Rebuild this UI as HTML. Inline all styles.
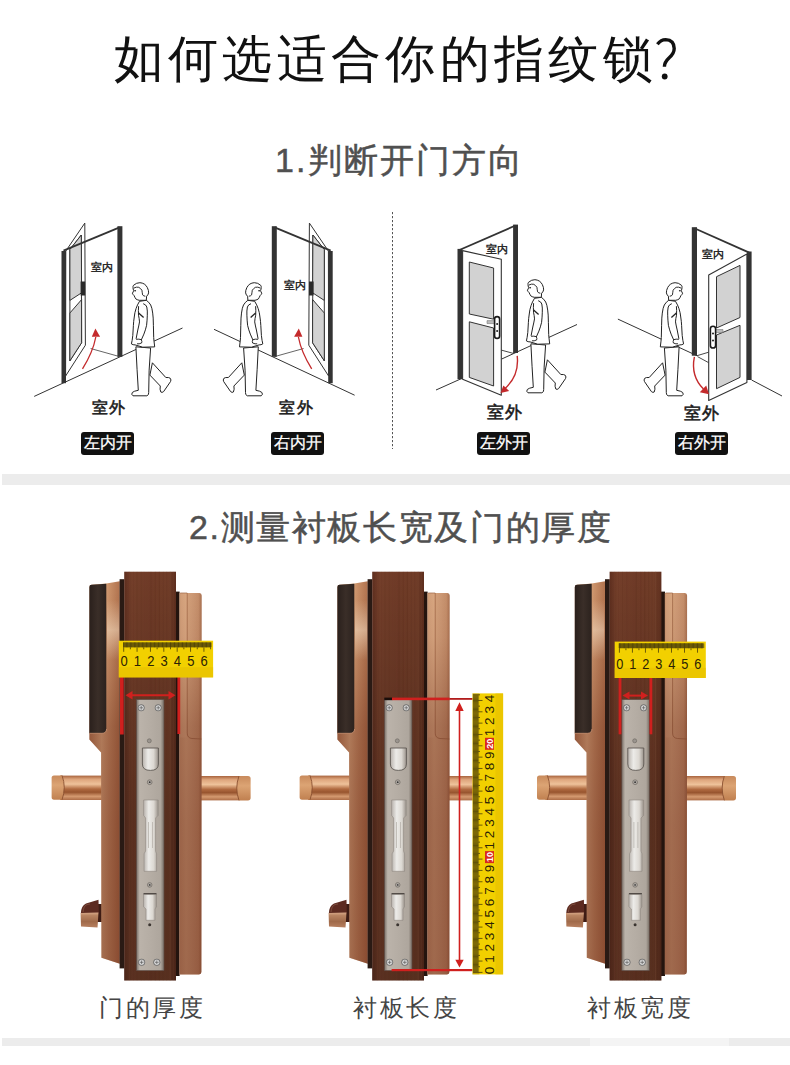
<!DOCTYPE html>
<html><head><meta charset="utf-8">
<style>
html,body{margin:0;padding:0;background:#fff;width:790px;height:1065px;overflow:hidden;position:relative;font-family:"Liberation Sans",sans-serif}
.t{position:absolute;white-space:nowrap;line-height:1}
.band{position:absolute;left:2px;width:788px;background:#ececec}
.lb{color:#1a1a1a;font-weight:500;-webkit-text-stroke:0.55px #1a1a1a;letter-spacing:1.5px}
.tag{position:absolute;width:53px;height:22.2px;background:#111;border-radius:3px;color:#fff;font-size:15.6px;line-height:22.5px;text-align:center;white-space:nowrap;letter-spacing:0px;-webkit-text-stroke:0.25px #fff}
.cap{position:absolute;white-space:nowrap;line-height:1;font-size:24px;color:#444;letter-spacing:2.6px;font-weight:300}
svg{position:absolute;left:0;top:0}
</style></head><body>
<div class="t" style="left:113.5px;top:34px;font-size:50px;font-weight:300;color:#111;letter-spacing:4.35px">如何选适合你的指纹锁</div>
<div class="t" style="left:275px;top:143px;font-size:34px;font-weight:500;color:#505050;letter-spacing:2.1px;-webkit-text-stroke:0.5px #505050">1.判断开门方向</div>
<div class="band" style="top:474px;height:11px"></div>
<div class="t" style="left:189px;top:510px;font-size:34px;font-weight:500;color:#505050;letter-spacing:1.62px;-webkit-text-stroke:0.5px #505050">2.测量衬板长宽及门的厚度</div>
<div class="band" style="top:1038px;height:8px"></div>
<div style="position:absolute;left:590px;top:1038px;width:139px;height:8px;background:#f4f4f4"></div>
<svg width="790" height="1065" viewBox="0 0 790 1065">
<defs><g id="man">
<path d="M152.4,362.8 L165.8,377.5 Q169,377.2 170.3,378.3 Q171.5,380 170.5,381.6 L163.6,391.6 Q162,393 160.8,392 Q159.6,389.5 160.3,386 L149.9,375.1 Z" fill="#fff" stroke="#222" stroke-width="1"/>
<path d="M135.9,346.8 Q137,370 138.3,390.3 Q134,391 132.4,392.4 Q130.8,394.4 133,395.8 L146.9,395.8 Q149,395 148.7,392.5 Q148.6,370 150.6,348 Z" fill="#fff" stroke="#222" stroke-width="1"/>
<path d="M139.5,301.3 Q137.2,305 136.1,308.4 Q134.6,313 134.4,316 Q133.5,322 133.4,325.3 L132.8,335.4 Q132.2,341 131.4,343.9 Q133,345 135.1,344.9 L142.8,347.2 L154.7,346.9 Q153.8,340 153.7,337.5 L153.4,325.3 Q153.3,317 152.7,313.1 Q152,307.5 150.7,305 Q148.8,301.8 146.3,300.3 Z" fill="#fff" stroke="#222" stroke-width="1"/>
<path d="M143.2,303.7 Q146,304.5 146.8,307 Q147.6,311 147.3,315.2 Q147.2,320 146.6,325.3 Q145.5,330 143.9,334.1 L141.2,340.2 M138.6,306.2 Q138.2,310 138.5,315.2 Q139.3,318.5 139.5,321.9 Q138.8,326 137.8,330 L136.1,338.8" fill="none" stroke="#222" stroke-width="1"/>
<path d="M136.1,339.3 Q139,338.8 141.3,339.7 Q142.3,341.5 141.6,343 Q139,344.2 137,343.8" fill="#fff" stroke="#222" stroke-width="0.95"/>
<path d="M138.6,313 L143.6,317.6" stroke="#222" stroke-width="1.3"/>
<path d="M139.2,300.3 Q137,299.8 135.8,298.9 Q134.8,297.3 134.1,295.6 Q133,294.8 132.4,293.2 Q133.4,292 133.6,290.5 Q133,289 133,287.5 Q132.8,286.2 133.5,285.3 Q136.5,282.6 139.9,282.7 Q145,283 147.3,287.5 Q148.8,290.5 148.6,292.9 Q148,295.3 146.6,296.2 L146.3,300.3 Z" fill="#fff" stroke="#222" stroke-width="1"/>
<path d="M133.8,288.1 Q136.5,286.6 138.8,287.3 Q140.8,288.5 141.9,290.2 Q142.3,293 142.6,294.9 Q143.8,296.2 145.3,296.2" fill="none" stroke="#222" stroke-width="0.95"/>
<ellipse cx="135.1" cy="290.8" rx="1" ry="0.7" fill="#222"/>
</g>

<linearGradient id="gSlab" x1="0" x2="1" y1="0" y2="0">
 <stop offset="0" stop-color="#603020"/><stop offset="0.15" stop-color="#743f2a"/><stop offset="0.5" stop-color="#6f3b27"/><stop offset="0.85" stop-color="#713d28"/><stop offset="1" stop-color="#5e2e1e"/>
</linearGradient>
<linearGradient id="gSlabV" x1="0" x2="0" y1="0" y2="1">
 <stop offset="0" stop-color="#000" stop-opacity="0"/><stop offset="0.3" stop-color="#000" stop-opacity="0.12"/><stop offset="0.6" stop-color="#000" stop-opacity="0.22"/><stop offset="1" stop-color="#000" stop-opacity="0.22"/>
</linearGradient>
<linearGradient id="gCopL" x1="0" x2="1" y1="0" y2="0">
 <stop offset="0" stop-color="#b57a56"/><stop offset="0.4" stop-color="#dcaa80"/><stop offset="0.65" stop-color="#c99068"/><stop offset="1" stop-color="#b0724e"/>
</linearGradient>
<linearGradient id="gShadeV" gradientUnits="userSpaceOnUse" x1="0" x2="0" y1="590" y2="980">
 <stop offset="0" stop-color="#4a0c00" stop-opacity="0"/><stop offset="0.12" stop-color="#4a0c00" stop-opacity="0.05"/><stop offset="0.35" stop-color="#4a0c00" stop-opacity="0.3"/><stop offset="0.6" stop-color="#4a0c00" stop-opacity="0.36"/><stop offset="1" stop-color="#4a0c00" stop-opacity="0.38"/>
</linearGradient>
<linearGradient id="gCopR" x1="0" x2="1" y1="0" y2="0">
 <stop offset="0" stop-color="#c89470"/><stop offset="0.3" stop-color="#d4a27c"/><stop offset="0.6" stop-color="#cc9874"/><stop offset="0.85" stop-color="#c48e6a"/><stop offset="1" stop-color="#a87050"/>
</linearGradient>
<linearGradient id="gPanel" x1="0" x2="1" y1="0" y2="0">
 <stop offset="0" stop-color="#2a201c"/><stop offset="0.5" stop-color="#3a2e28"/><stop offset="1" stop-color="#2c221e"/>
</linearGradient>
<linearGradient id="gLever" x1="0" x2="0" y1="0" y2="1">
 <stop offset="0" stop-color="#a8643e"/><stop offset="0.15" stop-color="#dea57c"/><stop offset="0.35" stop-color="#eec29a"/><stop offset="0.55" stop-color="#b06a40"/><stop offset="0.68" stop-color="#98552f"/><stop offset="0.85" stop-color="#d49a70"/><stop offset="1" stop-color="#ac6c46"/>
</linearGradient>
<linearGradient id="gCap" x1="0" x2="0" y1="0" y2="1">
 <stop offset="0" stop-color="#c88a5c"/><stop offset="0.4" stop-color="#dca474"/><stop offset="1" stop-color="#c08050"/>
</linearGradient>
<linearGradient id="gPlate" x1="0" x2="1" y1="0" y2="0">
 <stop offset="0" stop-color="#7a7068"/><stop offset="0.12" stop-color="#bbb3aa"/><stop offset="0.5" stop-color="#b5ada4"/><stop offset="0.88" stop-color="#aea69d"/><stop offset="1" stop-color="#776d64"/>
</linearGradient>
<linearGradient id="gBolt" x1="0" x2="1" y1="0" y2="0">
 <stop offset="0" stop-color="#b8b2ac"/><stop offset="0.35" stop-color="#ecebe8"/><stop offset="0.7" stop-color="#dcd8d2"/><stop offset="1" stop-color="#9a928a"/>
</linearGradient>
<linearGradient id="gThumb" x1="0" x2="0" y1="0" y2="1">
 <stop offset="0" stop-color="#d8a888"/><stop offset="0.2" stop-color="#b88462"/><stop offset="0.6" stop-color="#a06a4a"/><stop offset="1" stop-color="#b88060"/>
</linearGradient>
<linearGradient id="gHi" x1="0" x2="0" y1="0" y2="1"><stop offset="0" stop-color="#fff0d8" stop-opacity="0"/><stop offset="0.5" stop-color="#fff0d8" stop-opacity="0.45"/><stop offset="1" stop-color="#fff0d8" stop-opacity="0"/></linearGradient>
<radialGradient id="gScrew"><stop offset="0" stop-color="#f0f0f0"/><stop offset="0.7" stop-color="#cfcfcf"/><stop offset="1" stop-color="#777"/></radialGradient>
<g id="lockbody">
 <!-- levers -->
 <rect x="60" y="775.6" width="42" height="24.4" fill="url(#gLever)"/>
 <path d="M51.6,778 Q51.6,775.4 54,775.4 L62,775.4 Q66,787.5 62,799.8 L54,799.8 Q51.6,799.8 51.6,797 Z" fill="url(#gCap)"/>
 <path d="M62,775.4 Q66.5,787.5 62,799.8" fill="none" stroke="#8a5030" stroke-width="0.9"/>
 <rect x="199" y="776" width="40" height="24.4" fill="url(#gLever)"/>
 <path d="M250.6,778.5 Q250.6,776 248,776 L239,776 Q234.5,788 239,800.4 L248,800.4 Q250.6,800.4 250.6,798 Z" fill="url(#gCap)"/>
 <path d="M239,776 Q234.5,788 239,800.4" fill="none" stroke="#8a5030" stroke-width="0.9"/>
 <!-- thumb turn -->
 <rect x="96" y="904" width="6" height="18" fill="#3e1c14"/>
 <path d="M80.8,913.5 Q81.2,905.5 86,903.5 L98.5,899.8 L98.8,913.5 Z" fill="#5c2a20"/>
 <path d="M83,912 Q83.5,906 87,904.5 L90,904" fill="none" stroke="#8a5a48" stroke-width="1" opacity="0.7"/>
 <path d="M80.6,913 L98.5,912.5 L97.5,927.5 L81,926.5 Z" fill="url(#gThumb)"/>
 <!-- left body -->
 <path d="M89.4,587 Q89.4,584.7 91.5,584.7 L106.3,583.5 L119.8,581.3 L119.8,963.8 L101.4,957.7 L101.1,752.6 L89.4,739.4 Z" fill="url(#gCopL)"/>
 <path d="M89.4,587 Q89.4,584.7 91.5,584.7 L106.3,583.5 L119.8,581.3 L119.8,963.8 L101.4,957.7 L101.1,752.6 L89.4,739.4 Z" fill="url(#gShadeV)"/>
 <rect x="107" y="600" width="12" height="60" fill="url(#gHi)"/>
 <path d="M89.4,587 Q89.4,584.7 91.5,584.7 L106.3,583.8 L106.3,729 Q106.3,733.3 102,733.3 L89.4,733.3 Z" fill="url(#gPanel)"/>
 <path d="M89.4,733.3 L102,733.3 Q106.3,733.3 106.6,729" fill="none" stroke="#c99070" stroke-width="0.8"/>
 <!-- dark bands -->
 <rect x="119.6" y="579.2" width="4.8" height="389.2" fill="#2a1a14"/>
 <rect x="175.6" y="591.6" width="4" height="384.4" fill="#24140e"/>
 <!-- slab -->
 <rect x="124.2" y="571.7" width="51.8" height="408.8" fill="url(#gSlab)"/>
 <rect x="124.2" y="571.7" width="51.8" height="408.8" fill="url(#gSlabV)"/>
 <rect x="125.5" y="571.7" width="0.70" height="408.8" fill="#5a2b1c" opacity="0.13"/>
 <rect x="128.8" y="571.7" width="0.88" height="408.8" fill="#7d4632" opacity="0.20"/>
 <rect x="133.0" y="571.7" width="0.55" height="408.8" fill="#5a2b1c" opacity="0.17"/>
 <rect x="136.7" y="571.7" width="0.72" height="408.8" fill="#552818" opacity="0.19"/>
 <rect x="140.8" y="571.7" width="1.09" height="408.8" fill="#5a2b1c" opacity="0.13"/>
 <rect x="143.8" y="571.7" width="0.53" height="408.8" fill="#7d4632" opacity="0.22"/>
 <rect x="148.2" y="571.7" width="1.06" height="408.8" fill="#7d4632" opacity="0.10"/>
 <rect x="150.5" y="571.7" width="0.97" height="408.8" fill="#552818" opacity="0.20"/>
 <rect x="154.8" y="571.7" width="1.17" height="408.8" fill="#552818" opacity="0.16"/>
 <rect x="156.7" y="571.7" width="0.51" height="408.8" fill="#7d4632" opacity="0.16"/>
 <rect x="158.8" y="571.7" width="1.02" height="408.8" fill="#552818" opacity="0.26"/>
 <rect x="162.9" y="571.7" width="0.86" height="408.8" fill="#552818" opacity="0.17"/>
 <rect x="166.0" y="571.7" width="1.12" height="408.8" fill="#5a2b1c" opacity="0.16"/>
 <rect x="169.6" y="571.7" width="1.19" height="408.8" fill="#80503a" opacity="0.26"/>
 <rect x="173.1" y="571.7" width="1.17" height="408.8" fill="#80503a" opacity="0.12"/>
 <!-- right body -->
 <path d="M179.4,593 L199.5,593 Q201.7,593 201.7,595.5 L201.4,972 Q201.4,974.4 199,974.4 L179.4,974.4 Z" fill="url(#gCopR)"/>
 <path d="M180.2,593 H187.2 V733 Q187.2,738 192,738.5 L201.5,739" fill="none" stroke="#9c6444" stroke-width="0.9" opacity="0.8"/>
 <rect x="180.2" y="593.5" width="6.4" height="144" fill="#e0b08a" opacity="0.35"/>
 <path d="M179.4,593 L199.5,593 Q201.7,593 201.7,595.5 L201.4,972 Q201.4,974.4 199,974.4 L179.4,974.4 Z" fill="url(#gShadeV)"/>
 <!-- faceplate -->
 <rect x="136.4" y="699.6" width="27.6" height="271" fill="url(#gPlate)" stroke="#5a4a44" stroke-width="0.6"/>
 <circle cx="141.2" cy="707.8" r="3.2" fill="url(#gScrew)" stroke="#666" stroke-width="0.5"/>
 <circle cx="158.2" cy="707.8" r="3.2" fill="url(#gScrew)" stroke="#666" stroke-width="0.5"/>
 <path d="M139.4,707.8 H143 M141.2,706 V709.6 M156.4,707.8 H160 M158.2,706 V709.6" stroke="#555" stroke-width="0.7"/>
 <circle cx="141.6" cy="962.3" r="3.3" fill="url(#gScrew)" stroke="#666" stroke-width="0.5"/>
 <circle cx="156.8" cy="962.3" r="3.3" fill="url(#gScrew)" stroke="#666" stroke-width="0.5"/>
 <path d="M139.8,962.3 H143.4 M141.6,960.5 V964.1 M155,962.3 H158.6 M156.8,960.5 V964.1" stroke="#555" stroke-width="0.7"/>
 <circle cx="149.3" cy="740.8" r="2" fill="#9a948e" stroke="#6a645e" stroke-width="0.6"/>
 <path d="M142.4,748 L158.4,748 L158.4,764 Q158.4,770.4 150.4,770.4 Q142.4,770.4 142.4,764 Z" fill="url(#gBolt)" stroke="#5e5852" stroke-width="0.9"/>
 <circle cx="149.7" cy="782.2" r="2.4" fill="#b0aaa4" stroke="#6e6862" stroke-width="0.7"/><circle cx="149.7" cy="782.2" r="0.9" fill="#333"/>
 <path d="M143.6,800 H158.2 V815.4 L155.6,818 V851 L156.6,853.8 V871.3 H144.1 V853.8 L145.6,851 V818 L143.6,815.4 Z" fill="url(#gBolt)" stroke="#8e8882" stroke-width="0.6"/>
 <path d="M148.5,822 V848 M152.5,822 V848" stroke="#b8b2ac" stroke-width="0.8"/>
 <circle cx="149.7" cy="884.9" r="2.3" fill="#b0aaa4" stroke="#6e6862" stroke-width="0.7"/><circle cx="149.7" cy="884.9" r="0.9" fill="#444"/>
 <rect x="143.5" y="893.2" width="13" height="1.6" fill="#3a3430"/>
 <path d="M143.5,894.5 H156.5 V906.8 L155,909 V920.3 H146 V909 L143.5,906.8 Z" fill="url(#gBolt)" stroke="#8e8882" stroke-width="0.6"/>
 <circle cx="149.7" cy="924.8" r="1.5" fill="#3a3430"/>
</g>
</defs>
<use href="#lockbody"/>
<use href="#lockbody" transform="translate(248,0)"/>
<use href="#lockbody" transform="translate(485.4,0)"/>
<rect x="120" y="677" width="3.7" height="57.5" fill="#d0201e"/>
<rect x="177.4" y="677" width="2.8" height="57" fill="#d0201e"/>
<line x1="131" y1="695.2" x2="170" y2="695.2" stroke="#d0201e" stroke-width="2"/>
<polygon points="125.5,695.2 132.5,691 132.5,699.4" fill="#d0201e"/>
<polygon points="175.5,695.2 168.5,691 168.5,699.4" fill="#d0201e"/>
<rect x="118.8" y="640.7" width="94.3" height="36.7" fill="#f2d000"/>
<rect x="118.8" y="667.124" width="94.3" height="10.276000000000002" fill="#e6c000" opacity="0.6"/>
<rect x="123.0" y="642.5" width="88.6" height="4.6" fill="#6a5808" opacity="0.7"/>
<path d="M123.70,642.3000000000001v9.5 M125.04,642.3000000000001v5.2 M126.37,642.3000000000001v5.2 M127.71,642.3000000000001v5.2 M129.05,642.3000000000001v5.2 M130.38,642.3000000000001v7 M131.72,642.3000000000001v5.2 M133.06,642.3000000000001v5.2 M134.40,642.3000000000001v5.2 M135.73,642.3000000000001v5.2 M137.07,642.3000000000001v9.5 M138.41,642.3000000000001v5.2 M139.74,642.3000000000001v5.2 M141.08,642.3000000000001v5.2 M142.42,642.3000000000001v5.2 M143.75,642.3000000000001v7 M145.09,642.3000000000001v5.2 M146.43,642.3000000000001v5.2 M147.77,642.3000000000001v5.2 M149.10,642.3000000000001v5.2 M150.44,642.3000000000001v9.5 M151.78,642.3000000000001v5.2 M153.11,642.3000000000001v5.2 M154.45,642.3000000000001v5.2 M155.79,642.3000000000001v5.2 M157.12,642.3000000000001v7 M158.46,642.3000000000001v5.2 M159.80,642.3000000000001v5.2 M161.14,642.3000000000001v5.2 M162.47,642.3000000000001v5.2 M163.81,642.3000000000001v9.5 M165.15,642.3000000000001v5.2 M166.48,642.3000000000001v5.2 M167.82,642.3000000000001v5.2 M169.16,642.3000000000001v5.2 M170.50,642.3000000000001v7 M171.83,642.3000000000001v5.2 M173.17,642.3000000000001v5.2 M174.51,642.3000000000001v5.2 M175.84,642.3000000000001v5.2 M177.18,642.3000000000001v9.5 M178.52,642.3000000000001v5.2 M179.85,642.3000000000001v5.2 M181.19,642.3000000000001v5.2 M182.53,642.3000000000001v5.2 M183.87,642.3000000000001v7 M185.20,642.3000000000001v5.2 M186.54,642.3000000000001v5.2 M187.88,642.3000000000001v5.2 M189.21,642.3000000000001v5.2 M190.55,642.3000000000001v9.5 M191.89,642.3000000000001v5.2 M193.22,642.3000000000001v5.2 M194.56,642.3000000000001v5.2 M195.90,642.3000000000001v5.2 M197.24,642.3000000000001v7 M198.57,642.3000000000001v5.2 M199.91,642.3000000000001v5.2 M201.25,642.3000000000001v5.2 M202.58,642.3000000000001v5.2 M203.92,642.3000000000001v9.5 M205.26,642.3000000000001v5.2 M206.59,642.3000000000001v5.2 M207.93,642.3000000000001v5.2 M209.27,642.3000000000001v5.2 M210.61,642.3000000000001v7" stroke="#3f340a" stroke-width="0.75" fill="none"/>
<text transform="translate(124.00,666.2) scale(0.84,1)" font-size="15.5" text-anchor="middle" fill="#2b2205" font-family="Liberation Sans, sans-serif">0</text>
<text transform="translate(137.37,666.2) scale(0.84,1)" font-size="15.5" text-anchor="middle" fill="#2b2205" font-family="Liberation Sans, sans-serif">1</text>
<text transform="translate(150.74,666.2) scale(0.84,1)" font-size="15.5" text-anchor="middle" fill="#2b2205" font-family="Liberation Sans, sans-serif">2</text>
<text transform="translate(164.11,666.2) scale(0.84,1)" font-size="15.5" text-anchor="middle" fill="#2b2205" font-family="Liberation Sans, sans-serif">3</text>
<text transform="translate(177.48,666.2) scale(0.84,1)" font-size="15.5" text-anchor="middle" fill="#2b2205" font-family="Liberation Sans, sans-serif">4</text>
<text transform="translate(190.85,666.2) scale(0.84,1)" font-size="15.5" text-anchor="middle" fill="#2b2205" font-family="Liberation Sans, sans-serif">5</text>
<text transform="translate(204.22,666.2) scale(0.84,1)" font-size="15.5" text-anchor="middle" fill="#2b2205" font-family="Liberation Sans, sans-serif">6</text>
<rect x="618.6" y="678" width="2.8" height="56.3" fill="#d0201e"/>
<rect x="649.5" y="678" width="2.8" height="56.3" fill="#d0201e"/>
<line x1="627" y1="695.6" x2="643.5" y2="695.6" stroke="#d0201e" stroke-width="2"/>
<polygon points="622.5,695.6 629.5,691.6 629.5,699.6" fill="#d0201e"/>
<polygon points="648,695.6 641,691.6 641,699.6" fill="#d0201e"/>
<rect x="614.7" y="641.6" width="91.1" height="36.4" fill="#f2d000"/>
<rect x="614.7" y="667.808" width="91.1" height="10.192" fill="#e6c000" opacity="0.6"/>
<rect x="618.7" y="643.4" width="85.60000000000002" height="4.6" fill="#6a5808" opacity="0.7"/>
<path d="M619.40,643.2v9.5 M620.70,643.2v5.2 M622.00,643.2v5.2 M623.31,643.2v5.2 M624.61,643.2v5.2 M625.91,643.2v7 M627.21,643.2v5.2 M628.51,643.2v5.2 M629.82,643.2v5.2 M631.12,643.2v5.2 M632.42,643.2v9.5 M633.72,643.2v5.2 M635.02,643.2v5.2 M636.33,643.2v5.2 M637.63,643.2v5.2 M638.93,643.2v7 M640.23,643.2v5.2 M641.53,643.2v5.2 M642.84,643.2v5.2 M644.14,643.2v5.2 M645.44,643.2v9.5 M646.74,643.2v5.2 M648.04,643.2v5.2 M649.35,643.2v5.2 M650.65,643.2v5.2 M651.95,643.2v7 M653.25,643.2v5.2 M654.55,643.2v5.2 M655.86,643.2v5.2 M657.16,643.2v5.2 M658.46,643.2v9.5 M659.76,643.2v5.2 M661.06,643.2v5.2 M662.37,643.2v5.2 M663.67,643.2v5.2 M664.97,643.2v7 M666.27,643.2v5.2 M667.57,643.2v5.2 M668.88,643.2v5.2 M670.18,643.2v5.2 M671.48,643.2v9.5 M672.78,643.2v5.2 M674.08,643.2v5.2 M675.39,643.2v5.2 M676.69,643.2v5.2 M677.99,643.2v7 M679.29,643.2v5.2 M680.59,643.2v5.2 M681.90,643.2v5.2 M683.20,643.2v5.2 M684.50,643.2v9.5 M685.80,643.2v5.2 M687.10,643.2v5.2 M688.41,643.2v5.2 M689.71,643.2v5.2 M691.01,643.2v7 M692.31,643.2v5.2 M693.61,643.2v5.2 M694.92,643.2v5.2 M696.22,643.2v5.2 M697.52,643.2v9.5 M698.82,643.2v5.2 M700.12,643.2v5.2 M701.43,643.2v5.2 M702.73,643.2v5.2" stroke="#3f340a" stroke-width="0.75" fill="none"/>
<text transform="translate(619.70,668.5) scale(0.84,1)" font-size="15.2" text-anchor="middle" fill="#2b2205" font-family="Liberation Sans, sans-serif">0</text>
<text transform="translate(632.72,668.5) scale(0.84,1)" font-size="15.2" text-anchor="middle" fill="#2b2205" font-family="Liberation Sans, sans-serif">1</text>
<text transform="translate(645.74,668.5) scale(0.84,1)" font-size="15.2" text-anchor="middle" fill="#2b2205" font-family="Liberation Sans, sans-serif">2</text>
<text transform="translate(658.76,668.5) scale(0.84,1)" font-size="15.2" text-anchor="middle" fill="#2b2205" font-family="Liberation Sans, sans-serif">3</text>
<text transform="translate(671.78,668.5) scale(0.84,1)" font-size="15.2" text-anchor="middle" fill="#2b2205" font-family="Liberation Sans, sans-serif">4</text>
<text transform="translate(684.80,668.5) scale(0.84,1)" font-size="15.2" text-anchor="middle" fill="#2b2205" font-family="Liberation Sans, sans-serif">5</text>
<text transform="translate(697.82,668.5) scale(0.84,1)" font-size="15.2" text-anchor="middle" fill="#2b2205" font-family="Liberation Sans, sans-serif">6</text>
<rect x="384.3" y="697.6" width="8" height="2.6" fill="#1a0e0a"/>
<rect x="392" y="697.6" width="57.5" height="2.6" fill="#d0201e"/>
<rect x="449.4" y="698" width="23.3" height="1.8" fill="#b21c1c"/>
<rect x="391.6" y="969" width="81" height="2.2" fill="#d0201e"/>
<line x1="459.5" y1="708" x2="459.5" y2="963" stroke="#d0201e" stroke-width="1.6"/>
<polygon points="459.5,702.3 455.3,711 463.7,711" fill="#d0201e"/>
<polygon points="459.5,967.5 455.3,959.8 463.7,959.8" fill="#d0201e"/>
<rect x="472.5" y="693.4" width="30.6" height="281" fill="#f2d000"/>
<rect x="495.45" y="693.4" width="7.65" height="281" fill="#e6c000" opacity="0.6"/>
<rect x="472.5" y="693.4" width="6.8" height="281" fill="#7a6512" opacity="0.35"/>
<path d="M473.0,972.40h9.5 M473.0,971.27h5.5 M473.0,970.13h5.5 M473.0,969.00h5.5 M473.0,967.87h5.5 M473.0,966.74h7 M473.0,965.60h5.5 M473.0,964.47h5.5 M473.0,963.34h5.5 M473.0,962.20h5.5 M473.0,961.07h9.5 M473.0,959.94h5.5 M473.0,958.80h5.5 M473.0,957.67h5.5 M473.0,956.54h5.5 M473.0,955.40h7 M473.0,954.27h5.5 M473.0,953.14h5.5 M473.0,952.01h5.5 M473.0,950.87h5.5 M473.0,949.74h9.5 M473.0,948.61h5.5 M473.0,947.47h5.5 M473.0,946.34h5.5 M473.0,945.21h5.5 M473.0,944.07h7 M473.0,942.94h5.5 M473.0,941.81h5.5 M473.0,940.68h5.5 M473.0,939.54h5.5 M473.0,938.41h9.5 M473.0,937.28h5.5 M473.0,936.14h5.5 M473.0,935.01h5.5 M473.0,933.88h5.5 M473.0,932.75h7 M473.0,931.61h5.5 M473.0,930.48h5.5 M473.0,929.35h5.5 M473.0,928.21h5.5 M473.0,927.08h9.5 M473.0,925.95h5.5 M473.0,924.81h5.5 M473.0,923.68h5.5 M473.0,922.55h5.5 M473.0,921.41h7 M473.0,920.28h5.5 M473.0,919.15h5.5 M473.0,918.02h5.5 M473.0,916.88h5.5 M473.0,915.75h9.5 M473.0,914.62h5.5 M473.0,913.48h5.5 M473.0,912.35h5.5 M473.0,911.22h5.5 M473.0,910.09h7 M473.0,908.95h5.5 M473.0,907.82h5.5 M473.0,906.69h5.5 M473.0,905.55h5.5 M473.0,904.42h9.5 M473.0,903.29h5.5 M473.0,902.15h5.5 M473.0,901.02h5.5 M473.0,899.89h5.5 M473.0,898.75h7 M473.0,897.62h5.5 M473.0,896.49h5.5 M473.0,895.36h5.5 M473.0,894.22h5.5 M473.0,893.09h9.5 M473.0,891.96h5.5 M473.0,890.82h5.5 M473.0,889.69h5.5 M473.0,888.56h5.5 M473.0,887.42h7 M473.0,886.29h5.5 M473.0,885.16h5.5 M473.0,884.03h5.5 M473.0,882.89h5.5 M473.0,881.76h9.5 M473.0,880.63h5.5 M473.0,879.49h5.5 M473.0,878.36h5.5 M473.0,877.23h5.5 M473.0,876.10h7 M473.0,874.96h5.5 M473.0,873.83h5.5 M473.0,872.70h5.5 M473.0,871.56h5.5 M473.0,870.43h9.5 M473.0,869.30h5.5 M473.0,868.16h5.5 M473.0,867.03h5.5 M473.0,865.90h5.5 M473.0,864.76h7 M473.0,863.63h5.5 M473.0,862.50h5.5 M473.0,861.37h5.5 M473.0,860.23h5.5 M473.0,859.10h9.5 M473.0,857.97h5.5 M473.0,856.83h5.5 M473.0,855.70h5.5 M473.0,854.57h5.5 M473.0,853.43h7 M473.0,852.30h5.5 M473.0,851.17h5.5 M473.0,850.04h5.5 M473.0,848.90h5.5 M473.0,847.77h9.5 M473.0,846.64h5.5 M473.0,845.50h5.5 M473.0,844.37h5.5 M473.0,843.24h5.5 M473.0,842.11h7 M473.0,840.97h5.5 M473.0,839.84h5.5 M473.0,838.71h5.5 M473.0,837.57h5.5 M473.0,836.44h9.5 M473.0,835.31h5.5 M473.0,834.17h5.5 M473.0,833.04h5.5 M473.0,831.91h5.5 M473.0,830.77h7 M473.0,829.64h5.5 M473.0,828.51h5.5 M473.0,827.38h5.5 M473.0,826.24h5.5 M473.0,825.11h9.5 M473.0,823.98h5.5 M473.0,822.84h5.5 M473.0,821.71h5.5 M473.0,820.58h5.5 M473.0,819.44h7 M473.0,818.31h5.5 M473.0,817.18h5.5 M473.0,816.05h5.5 M473.0,814.91h5.5 M473.0,813.78h9.5 M473.0,812.65h5.5 M473.0,811.51h5.5 M473.0,810.38h5.5 M473.0,809.25h5.5 M473.0,808.12h7 M473.0,806.98h5.5 M473.0,805.85h5.5 M473.0,804.72h5.5 M473.0,803.58h5.5 M473.0,802.45h9.5 M473.0,801.32h5.5 M473.0,800.18h5.5 M473.0,799.05h5.5 M473.0,797.92h5.5 M473.0,796.78h7 M473.0,795.65h5.5 M473.0,794.52h5.5 M473.0,793.39h5.5 M473.0,792.25h5.5 M473.0,791.12h9.5 M473.0,789.99h5.5 M473.0,788.85h5.5 M473.0,787.72h5.5 M473.0,786.59h5.5 M473.0,785.45h7 M473.0,784.32h5.5 M473.0,783.19h5.5 M473.0,782.06h5.5 M473.0,780.92h5.5 M473.0,779.79h9.5 M473.0,778.66h5.5 M473.0,777.52h5.5 M473.0,776.39h5.5 M473.0,775.26h5.5 M473.0,774.12h7 M473.0,772.99h5.5 M473.0,771.86h5.5 M473.0,770.73h5.5 M473.0,769.59h5.5 M473.0,768.46h9.5 M473.0,767.33h5.5 M473.0,766.19h5.5 M473.0,765.06h5.5 M473.0,763.93h5.5 M473.0,762.79h7 M473.0,761.66h5.5 M473.0,760.53h5.5 M473.0,759.40h5.5 M473.0,758.26h5.5 M473.0,757.13h9.5 M473.0,756.00h5.5 M473.0,754.86h5.5 M473.0,753.73h5.5 M473.0,752.60h5.5 M473.0,751.46h7 M473.0,750.33h5.5 M473.0,749.20h5.5 M473.0,748.07h5.5 M473.0,746.93h5.5 M473.0,745.80h9.5 M473.0,744.67h5.5 M473.0,743.53h5.5 M473.0,742.40h5.5 M473.0,741.27h5.5 M473.0,740.13h7 M473.0,739.00h5.5 M473.0,737.87h5.5 M473.0,736.74h5.5 M473.0,735.60h5.5 M473.0,734.47h9.5 M473.0,733.34h5.5 M473.0,732.20h5.5 M473.0,731.07h5.5 M473.0,729.94h5.5 M473.0,728.80h7 M473.0,727.67h5.5 M473.0,726.54h5.5 M473.0,725.41h5.5 M473.0,724.27h5.5 M473.0,723.14h9.5 M473.0,722.01h5.5 M473.0,720.87h5.5 M473.0,719.74h5.5 M473.0,718.61h5.5 M473.0,717.47h7 M473.0,716.34h5.5 M473.0,715.21h5.5 M473.0,714.08h5.5 M473.0,712.94h5.5 M473.0,711.81h9.5 M473.0,710.68h5.5 M473.0,709.54h5.5 M473.0,708.41h5.5 M473.0,707.28h5.5 M473.0,706.14h7 M473.0,705.01h5.5 M473.0,703.88h5.5 M473.0,702.75h5.5 M473.0,701.61h5.5 M473.0,700.48h9.5 M473.0,699.35h5.5 M473.0,698.21h5.5 M473.0,697.08h5.5 M473.0,695.95h5.5 M473.0,694.82h7" stroke="#3f340a" stroke-width="0.75" fill="none"/>
<text transform="translate(494.1,970.4) rotate(-90)" font-size="13.5" text-anchor="middle" fill="#2b2205" font-family="Liberation Sans, sans-serif">0</text>
<text transform="translate(494.1,959.0699999999999) rotate(-90)" font-size="13.5" text-anchor="middle" fill="#2b2205" font-family="Liberation Sans, sans-serif">1</text>
<text transform="translate(494.1,947.74) rotate(-90)" font-size="13.5" text-anchor="middle" fill="#2b2205" font-family="Liberation Sans, sans-serif">2</text>
<text transform="translate(494.1,936.41) rotate(-90)" font-size="13.5" text-anchor="middle" fill="#2b2205" font-family="Liberation Sans, sans-serif">3</text>
<text transform="translate(494.1,925.0799999999999) rotate(-90)" font-size="13.5" text-anchor="middle" fill="#2b2205" font-family="Liberation Sans, sans-serif">4</text>
<text transform="translate(494.1,913.75) rotate(-90)" font-size="13.5" text-anchor="middle" fill="#2b2205" font-family="Liberation Sans, sans-serif">5</text>
<text transform="translate(494.1,902.42) rotate(-90)" font-size="13.5" text-anchor="middle" fill="#2b2205" font-family="Liberation Sans, sans-serif">6</text>
<text transform="translate(494.1,891.0899999999999) rotate(-90)" font-size="13.5" text-anchor="middle" fill="#2b2205" font-family="Liberation Sans, sans-serif">7</text>
<text transform="translate(494.1,879.76) rotate(-90)" font-size="13.5" text-anchor="middle" fill="#2b2205" font-family="Liberation Sans, sans-serif">8</text>
<text transform="translate(494.1,868.43) rotate(-90)" font-size="13.5" text-anchor="middle" fill="#2b2205" font-family="Liberation Sans, sans-serif">9</text>
<rect x="485.0" y="851.1" width="9" height="12" fill="#d82a1e"/>
<text transform="translate(492.7,857.1) rotate(-90)" font-size="9" text-anchor="middle" fill="#fff" font-weight="700" font-family="Liberation Sans, sans-serif">10</text>
<text transform="translate(494.1,845.77) rotate(-90)" font-size="13.5" text-anchor="middle" fill="#2b2205" font-family="Liberation Sans, sans-serif">1</text>
<text transform="translate(494.1,834.4399999999999) rotate(-90)" font-size="13.5" text-anchor="middle" fill="#2b2205" font-family="Liberation Sans, sans-serif">2</text>
<text transform="translate(494.1,823.11) rotate(-90)" font-size="13.5" text-anchor="middle" fill="#2b2205" font-family="Liberation Sans, sans-serif">3</text>
<text transform="translate(494.1,811.78) rotate(-90)" font-size="13.5" text-anchor="middle" fill="#2b2205" font-family="Liberation Sans, sans-serif">4</text>
<text transform="translate(494.1,800.45) rotate(-90)" font-size="13.5" text-anchor="middle" fill="#2b2205" font-family="Liberation Sans, sans-serif">5</text>
<text transform="translate(494.1,789.12) rotate(-90)" font-size="13.5" text-anchor="middle" fill="#2b2205" font-family="Liberation Sans, sans-serif">6</text>
<text transform="translate(494.1,777.79) rotate(-90)" font-size="13.5" text-anchor="middle" fill="#2b2205" font-family="Liberation Sans, sans-serif">7</text>
<text transform="translate(494.1,766.46) rotate(-90)" font-size="13.5" text-anchor="middle" fill="#2b2205" font-family="Liberation Sans, sans-serif">8</text>
<text transform="translate(494.1,755.13) rotate(-90)" font-size="13.5" text-anchor="middle" fill="#2b2205" font-family="Liberation Sans, sans-serif">9</text>
<rect x="485.0" y="737.8" width="9" height="12" fill="#d82a1e"/>
<text transform="translate(492.7,743.8) rotate(-90)" font-size="9" text-anchor="middle" fill="#fff" font-weight="700" font-family="Liberation Sans, sans-serif">20</text>
<text transform="translate(494.1,732.47) rotate(-90)" font-size="13.5" text-anchor="middle" fill="#2b2205" font-family="Liberation Sans, sans-serif">1</text>
<text transform="translate(494.1,721.14) rotate(-90)" font-size="13.5" text-anchor="middle" fill="#2b2205" font-family="Liberation Sans, sans-serif">2</text>
<text transform="translate(494.1,709.81) rotate(-90)" font-size="13.5" text-anchor="middle" fill="#2b2205" font-family="Liberation Sans, sans-serif">3</text>
<text transform="translate(494.1,698.48) rotate(-90)" font-size="13.5" text-anchor="middle" fill="#2b2205" font-family="Liberation Sans, sans-serif">4</text>
<g fill="none" stroke-linejoin="round">
<line x1="34.2" y1="396.4" x2="182.5" y2="328" stroke="#333" stroke-width="1"/>
<line x1="214" y1="329.3" x2="354.6" y2="395.2" stroke="#333" stroke-width="1"/>

<line x1="90.6" y1="348.5" x2="119.6" y2="356.6" stroke="#555" stroke-width="0.9"/>
<polygon points="65.8,251 84.8,223.1 85.4,345.2 65.6,376" fill="#fff" stroke="#333" stroke-width="1"/>
<polygon points="69.9,249.5 81.3,235 81.6,342.8 69.9,360.8" fill="#fff" stroke="#333" stroke-width="1"/>
<polygon points="69.9,249.5 81.3,235 81.6,292.8 69.9,300.4" fill="#d2d2d2" stroke="#333" stroke-width="1"/>
<polygon points="69.9,313 81.6,299.6 81.6,342.8 69.9,360.8" fill="#d2d2d2" stroke="#333" stroke-width="1"/>
<rect x="80.6" y="281.5" width="4.6" height="14" fill="#2a2a2a"/>
<line x1="63.5" y1="250.6" x2="119.6" y2="227.3" stroke="#333" stroke-width="1.8"/>
<rect x="61.5" y="251" width="4.5" height="132.2" fill="#333"/>
<rect x="117.4" y="226.2" width="5" height="130.6" fill="#333"/>

<path d="M82.5,368.9 Q93,352 95.8,337" fill="none" stroke="#c42a2c" stroke-width="1.3"/>
<polygon points="95.4,328.5 91.8,336.8 100.1,336.8" fill="#c42a2c"/>
<use href="#man"/>
<g transform="matrix(-1,0,0,1,394.2,0)">

<line x1="90.6" y1="348.5" x2="119.6" y2="356.6" stroke="#555" stroke-width="0.9"/>
<polygon points="65.8,251 84.8,223.1 85.4,345.2 65.6,376" fill="#fff" stroke="#333" stroke-width="1"/>
<polygon points="69.9,249.5 81.3,235 81.6,342.8 69.9,360.8" fill="#fff" stroke="#333" stroke-width="1"/>
<polygon points="69.9,249.5 81.3,235 81.6,292.8 69.9,300.4" fill="#d2d2d2" stroke="#333" stroke-width="1"/>
<polygon points="69.9,313 81.6,299.6 81.6,342.8 69.9,360.8" fill="#d2d2d2" stroke="#333" stroke-width="1"/>
<rect x="80.6" y="281.5" width="4.6" height="14" fill="#2a2a2a"/>
<line x1="63.5" y1="250.6" x2="119.6" y2="227.3" stroke="#333" stroke-width="1.8"/>
<rect x="61.5" y="251" width="4.5" height="132.2" fill="#333"/>
<rect x="117.4" y="226.2" width="5" height="130.6" fill="#333"/>

<path d="M82.5,368.9 Q93,352 95.8,337" fill="none" stroke="#c42a2c" stroke-width="1.3"/>
<polygon points="95.4,328.5 91.8,336.8 100.1,336.8" fill="#c42a2c"/>
<use href="#man"/>
</g>

<line x1="436" y1="390" x2="462.4" y2="378.2" stroke="#333" stroke-width="1"/>
<line x1="501.3" y1="359.2" x2="577" y2="324.5" stroke="#333" stroke-width="1"/>
<line x1="460" y1="249.8" x2="515.5" y2="225.5" stroke="#333" stroke-width="1.8"/>
<rect x="457.5" y="248.9" width="4.9" height="130.3" fill="#333"/>
<rect x="513.1" y="224.6" width="4.9" height="128.4" fill="#333"/>
<polygon points="462.6,250.6 501.3,259.3 501.3,395.3 462.6,379.2" fill="#fff" stroke="#333" stroke-width="1.1"/>
<line x1="501.3" y1="350.1" x2="513" y2="353.3" stroke="#333" stroke-width="0.9"/>
<polygon points="469.3,262 493.6,268 493.6,319.2 469.3,314" fill="#d2d2d2" stroke="#333" stroke-width="1"/>
<polygon points="469.3,321.8 493.6,328 493.6,386 469.3,377.4" fill="#d2d2d2" stroke="#333" stroke-width="1"/>
<rect x="487" y="320.6" width="8" height="3" fill="#bbb" stroke="#666" stroke-width="0.5"/>
<rect x="494.6" y="316.6" width="5" height="21.8" rx="2.5" fill="#fff" stroke="#1a1a1a" stroke-width="1.6"/>
<circle cx="497.1" cy="324" r="1" fill="#1a1a1a"/><circle cx="497.1" cy="331" r="1" fill="#1a1a1a"/>
<path d="M517.2,355.8 Q519.5,376 504,389.5" fill="none" stroke="#c42a2c" stroke-width="1.4"/>
<polygon points="500.6,393 503.4,385.4 509.2,391" fill="#c42a2c"/>

<use href="#man" transform="translate(395,-3)"/>

<line x1="617.9" y1="319.1" x2="697" y2="355.7" stroke="#333" stroke-width="1"/>
<line x1="697" y1="355.7" x2="708.7" y2="352.2" stroke="#333" stroke-width="0.9"/>
<line x1="697.5" y1="356.6" x2="708.7" y2="362.7" stroke="#333" stroke-width="0.9"/>
<line x1="751.6" y1="380" x2="782" y2="396" stroke="#333" stroke-width="1"/>
<line x1="694.4" y1="228.2" x2="749.2" y2="252.6" stroke="#333" stroke-width="1.8"/>
<rect x="691.8" y="227.2" width="5.2" height="128.5" fill="#333"/>
<rect x="746.9" y="251.5" width="4.7" height="128.5" fill="#333"/>
<polygon points="708.7,275 746.9,254 746.9,382.5 708.7,400.5" fill="#fff" stroke="#333" stroke-width="1.1"/>
<polygon points="716.5,276.7 740,265.4 740,317.5 716.5,328" fill="#d2d2d2" stroke="#333" stroke-width="1"/>
<polygon points="716.5,335 740,325.3 740,377.4 716.5,388.7" fill="#d2d2d2" stroke="#333" stroke-width="1"/>
<rect x="715" y="329.5" width="8" height="3" fill="#bbb" stroke="#666" stroke-width="0.5"/>
<rect x="710.4" y="326.2" width="5.2" height="21.8" rx="2.6" fill="#fff" stroke="#1a1a1a" stroke-width="1.6"/>
<circle cx="713" cy="333.5" r="1" fill="#1a1a1a"/><circle cx="713" cy="340.5" r="1" fill="#1a1a1a"/>
<path d="M694.4,356.8 Q690.5,376 703.5,389" fill="none" stroke="#c42a2c" stroke-width="1.4"/>
<polygon points="709,394.2 699.8,392.2 706.2,385.6" fill="#c42a2c"/>

<use href="#man" transform="matrix(-1,0,0,1,815,0)"/>
</g>
<text x="90.6" y="270.8" font-size="10.5" fill="#2a2a2a" font-weight="700" font-family="Liberation Sans, sans-serif">室内</text>
<text x="283.7" y="289.4" font-size="10.5" fill="#2a2a2a" font-weight="700" font-family="Liberation Sans, sans-serif">室内</text>
<text x="485.8" y="253.2" font-size="10.5" fill="#2a2a2a" font-weight="700" font-family="Liberation Sans, sans-serif">室内</text>
<text x="701.7" y="258.4" font-size="10.5" fill="#2a2a2a" font-weight="700" font-family="Liberation Sans, sans-serif">室内</text>
<path d="M657.4,44.2 Q661,39.6 665.6,39.6 Q674.2,40 674.2,48.6 Q674.2,53.5 669.2,57.8 Q664.4,62.2 664.4,66.8" fill="none" stroke="#111" stroke-width="3.4" stroke-linecap="butt"/>
<circle cx="664.7" cy="76.5" r="2.9" fill="#111"/>
<line x1="392.5" y1="212" x2="392.5" y2="449" stroke="#555" stroke-width="1" stroke-dasharray="2.2,1.8"/>
</svg>
<div class="t lb" style="left:91.5px;top:400px;font-size:15.5px">室外</div>
<div class="t lb" style="left:279px;top:400px;font-size:15.5px">室外</div>
<div class="t lb" style="left:486.5px;top:404px;font-size:17px">室外</div>
<div class="t lb" style="left:683.5px;top:405px;font-size:17px">室外</div>
<div class="tag" style="left:81.3px;top:432.4px">左内开</div>
<div class="tag" style="left:271.3px;top:432.4px">右内开</div>
<div class="tag" style="left:477px;top:432.4px">左外开</div>
<div class="tag" style="left:675.3px;top:432.4px">右外开</div>
<div class="cap" style="left:99px;top:996px">门的厚度</div>
<div class="cap" style="left:353px;top:996px">衬板长度</div>
<div class="cap" style="left:587px;top:996px">衬板宽度</div>
</body></html>
